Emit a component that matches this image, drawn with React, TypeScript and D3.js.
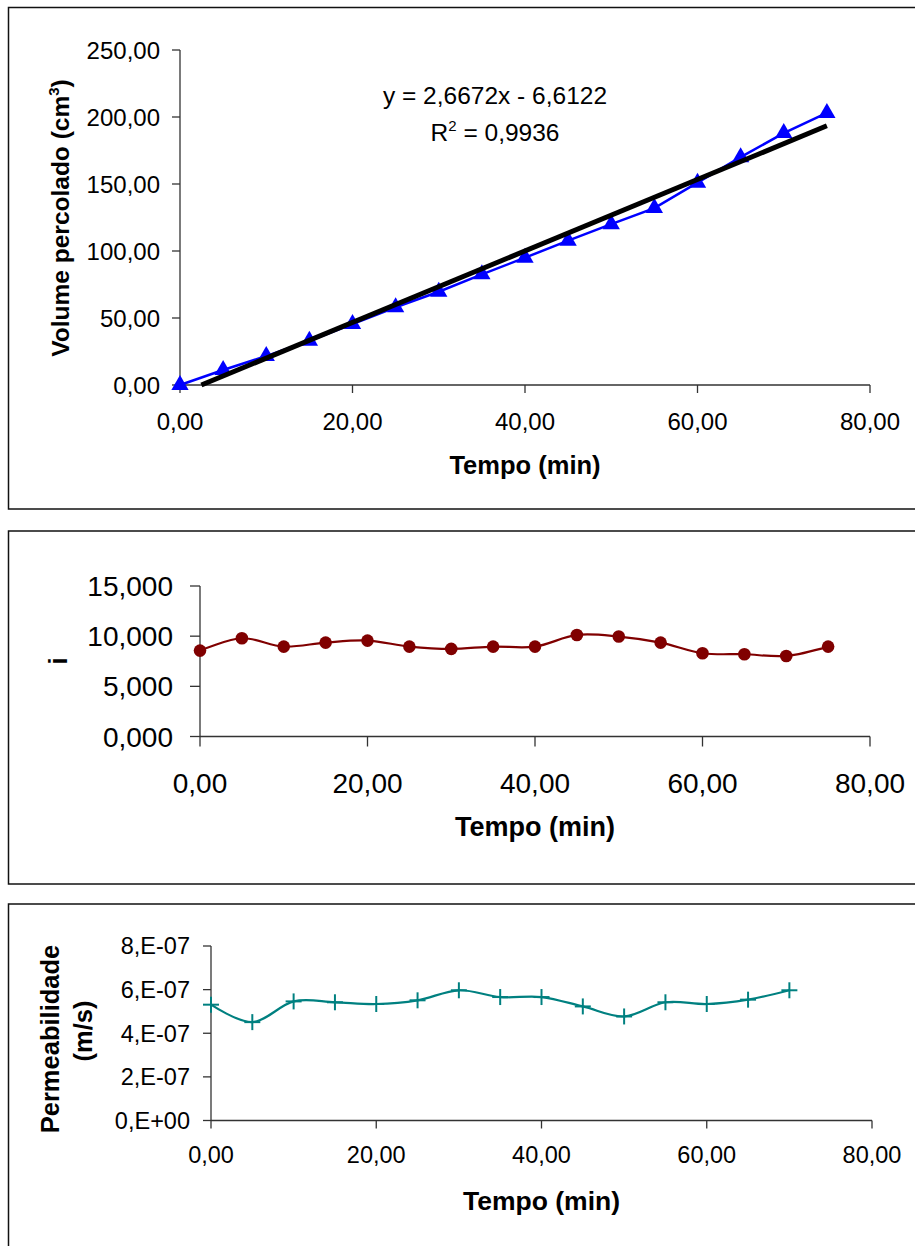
import React from "react";
import * as d3 from "d3";

// ---------- data ----------
const tempo = [0, 5, 10, 15, 20, 25, 30, 35, 40, 45, 50, 55, 60, 65, 70, 75];
const volume = [0, 11.2, 21.6, 33, 45.5, 58, 69.6, 82.6, 95, 107.7, 120, 132, 151, 170, 188, 203];
const gradiente = [8.56, 9.79, 8.96, 9.36, 9.56, 8.96, 8.73, 8.96, 8.96, 10.12, 9.96, 9.36, 8.3, 8.2, 8.03, 8.96];
const tempoPerm = [0, 5, 10, 15, 20, 25, 30, 35, 40, 45, 50, 55, 60, 65, 70];
const permeabilidade = [5.31e-7, 4.51e-7, 5.46e-7, 5.42e-7, 5.34e-7, 5.51e-7, 5.97e-7, 5.66e-7, 5.66e-7, 5.23e-7, 4.77e-7, 5.42e-7, 5.34e-7, 5.54e-7, 5.97e-7];

const xTicks = [0, 20, 40, 60, 80];
const volumeTicks = [0, 50, 100, 150, 200, 250];
const gradTicks = [0, 5, 10, 15];
const permTicks = [0, 2e-7, 4e-7, 6e-7, 8e-7];
const permTickLabels = ["0,E+00", "2,E-07", "4,E-07", "6,E-07", "8,E-07"];

const regSlope = 2.6672;
const regIntercept = -6.6122;

const FONT = "'Liberation Sans', Arial, sans-serif";
const comma = (v: number, d: number) => v.toFixed(d).replace(".", ",");
const AXIS = "#333";

function XAxis({ x, y0, tickLen, fontSize, labelY }: any) {
  const [a, b] = x.range();
  return (
    <g>
      <line x1={a} x2={b} y1={y0} y2={y0} stroke={AXIS} strokeWidth={1.3} />
      {xTicks.map((t) => (
        <g key={t}>
          <line x1={x(t)} x2={x(t)} y1={y0} y2={y0 + tickLen} stroke={AXIS} strokeWidth={1.3} />
          <text x={x(t)} y={labelY} textAnchor="middle" fontSize={fontSize} fontFamily={FONT}>
            {comma(t, 2)}
          </text>
        </g>
      ))}
    </g>
  );
}

function YAxis({ y, x0, ticks, labels, tickLen, fontSize, labelRight }: any) {
  const [a, b] = y.range();
  return (
    <g>
      <line x1={x0} x2={x0} y1={a} y2={b} stroke={AXIS} strokeWidth={1.3} />
      {ticks.map((t: number, i: number) => (
        <g key={i}>
          <line x1={x0 - tickLen} x2={x0} y1={y(t)} y2={y(t)} stroke={AXIS} strokeWidth={1.3} />
          <text x={labelRight} y={y(t)} dy="0.36em" textAnchor="end" fontSize={fontSize} fontFamily={FONT}>
            {labels[i]}
          </text>
        </g>
      ))}
    </g>
  );
}

function Chart1() {
  const x = d3.scaleLinear().domain([0, 80]).range([180, 870]);
  const y = d3.scaleLinear().domain([0, 250]).range([385, 50]);
  const line = d3.line<number>().x((_, i) => x(tempo[i])).y((v) => y(v));
  const tri = d3.symbol().type(d3.symbolTriangle).size(130)();
  const xStart = -regIntercept / regSlope;
  const xEnd = tempo[tempo.length - 1];
  return (
    <g>
      <rect x={8.5} y={7.5} width={960} height={501.5} fill="none" stroke="#111" strokeWidth={1.5} />
      <YAxis y={y} x0={180} ticks={volumeTicks} labels={volumeTicks.map((t) => comma(t, 2))} tickLen={8} fontSize={24} labelRight={160} />
      <XAxis x={x} y0={385} tickLen={8} fontSize={24} labelY={430} />
      <path d={line(volume) || ""} fill="none" stroke="#0000FF" strokeWidth={2.5} />
      {volume.map((v, i) => (
        <path key={i} d={tri || ""} transform={`translate(${x(tempo[i])},${y(v)})`} fill="#0000FF" />
      ))}
      <line
        x1={x(xStart)}
        y1={y(regSlope * xStart + regIntercept)}
        x2={x(xEnd)}
        y2={y(regSlope * xEnd + regIntercept)}
        stroke="#000"
        strokeWidth={5}
      />
      <text x={495} y={104} textAnchor="middle" fontSize={24.5} fontFamily={FONT}>
        y = 2,6672x - 6,6122
      </text>
      <text x={495} y={141} textAnchor="middle" fontSize={24.5} fontFamily={FONT}>
        R<tspan dy={-10} fontSize={15}>2</tspan>
        <tspan dy={10}> = 0,9936</tspan>
      </text>
      <text x={525} y={474} textAnchor="middle" fontSize={25.5} fontWeight="bold" fontFamily={FONT}>
        Tempo (min)
      </text>
      <text transform="translate(69,218) rotate(-90)" textAnchor="middle" fontSize={24.5} fontWeight="bold" fontFamily={FONT}>
        Volume percolado (cm<tspan dy={-10} fontSize={15}>3</tspan>
        <tspan dy={10}>)</tspan>
      </text>
    </g>
  );
}

function Chart2() {
  const x = d3.scaleLinear().domain([0, 80]).range([200, 870]);
  const y = d3.scaleLinear().domain([0, 15]).range([736.5, 586]);
  const line = d3
    .line<number>()
    .x((_, i) => x(tempo[i]))
    .y((v) => y(v))
    .curve(d3.curveCardinal.tension(0));
  return (
    <g>
      <rect x={8.5} y={531} width={960} height={353} fill="none" stroke="#111" strokeWidth={1.5} />
      <YAxis y={y} x0={200} ticks={gradTicks} labels={gradTicks.map((t) => comma(t, 3))} tickLen={10} fontSize={28} labelRight={173} />
      <XAxis x={x} y0={736.5} tickLen={10} fontSize={28} labelY={793} />
      <path d={line(gradiente) || ""} fill="none" stroke="#800000" strokeWidth={2.2} />
      {gradiente.map((v, i) => (
        <circle key={i} cx={x(tempo[i])} cy={y(v)} r={6.3} fill="#800000" />
      ))}
      <text x={535} y={836} textAnchor="middle" fontSize={27} fontWeight="bold" fontFamily={FONT}>
        Tempo (min)
      </text>
      <text transform="translate(67,661) rotate(-90)" textAnchor="middle" fontSize={25} fontWeight="bold" fontFamily={FONT}>
        i
      </text>
    </g>
  );
}

function Chart3() {
  const x = d3.scaleLinear().domain([0, 80]).range([211, 872]);
  const y = d3.scaleLinear().domain([0, 8e-7]).range([1120.5, 946]);
  const line = d3
    .line<number>()
    .x((_, i) => x(tempoPerm[i]))
    .y((v) => y(v))
    .curve(d3.curveCardinal.tension(0));
  return (
    <g>
      <rect x={8.5} y={904} width={960} height={400} fill="none" stroke="#111" strokeWidth={1.5} />
      <YAxis y={y} x0={211} ticks={permTicks} labels={permTickLabels} tickLen={8} fontSize={23.5} labelRight={190} />
      <XAxis x={x} y0={1120.5} tickLen={8} fontSize={23.5} labelY={1163} />
      <path d={line(permeabilidade) || ""} fill="none" stroke="#008080" strokeWidth={2.2} />
      {permeabilidade.map((v, i) => {
        const cx = x(tempoPerm[i]);
        const cy = y(v);
        return (
          <g key={i} stroke="#008080" strokeWidth={2}>
            <line x1={cx - 8} x2={cx + 8} y1={cy} y2={cy} />
            <line x1={cx} x2={cx} y1={cy - 8} y2={cy + 8} />
          </g>
        );
      })}
      <text x={541.5} y={1210} textAnchor="middle" fontSize={26.5} fontWeight="bold" fontFamily={FONT}>
        Tempo (min)
      </text>
      <text transform="translate(59,1039) rotate(-90)" textAnchor="middle" fontSize={25.5} fontWeight="bold" fontFamily={FONT}>
        Permeabilidade
      </text>
      <text transform="translate(92,1031) rotate(-90)" textAnchor="middle" fontSize={25.5} fontWeight="bold" fontFamily={FONT}>
        (m/s)
      </text>
    </g>
  );
}

export default function App() {
  return (
    <svg
      width={915}
      height={1246}
      style={{ position: "fixed", left: 0, top: 0, background: "#fff" }}
    >
      <rect x={0} y={0} width={915} height={1246} fill="#fff" />
      <Chart1 />
      <Chart2 />
      <Chart3 />
    </svg>
  );
}
